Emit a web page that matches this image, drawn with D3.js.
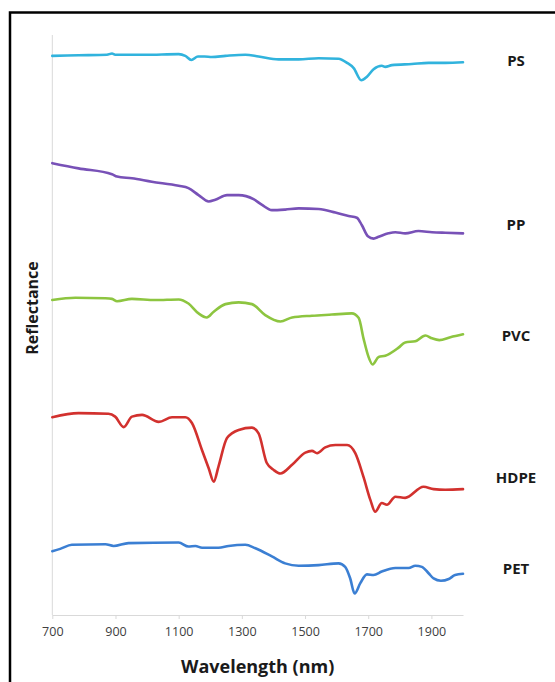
<!DOCTYPE html>
<html>
<head>
<meta charset="utf-8">
<script src="https://cdn.jsdelivr.net/npm/d3@7"></script>
<style>
  html, body { margin: 0; padding: 0; background: #fff; }
  svg { display: block; }
  text { font-family: "Open Sans", "DejaVu Sans", sans-serif; }
</style>
</head>
<body>
<svg id="chart" width="555" height="682"></svg>
<script>
// NIR reflectance spectra of five polymers, stacked with vertical offsets (a.u.)
const tickValues = [700, 900, 1100, 1300, 1500, 1700, 1900];

const psWavelength = [700, 783, 873, 889, 899, 994, 1100, 1121, 1140, 1161, 1182, 1205, 1248, 1311, 1353, 1416, 1480, 1543, 1606, 1633, 1654, 1678, 1696, 1717, 1743, 1754, 1775, 1838, 1891, 1944, 2000];
const psValue = [0.964, 0.965, 0.966, 0.968, 0.966, 0.966, 0.967, 0.964, 0.957, 0.963, 0.963, 0.962, 0.964, 0.966, 0.963, 0.958, 0.958, 0.960, 0.959, 0.952, 0.943, 0.922, 0.928, 0.941, 0.947, 0.945, 0.948, 0.950, 0.952, 0.952, 0.953];

const ppWavelength = [700, 783, 889, 905, 952, 1015, 1100, 1131, 1163, 1195, 1216, 1253, 1290, 1337, 1364, 1395, 1437, 1480, 1543, 1596, 1638, 1664, 1680, 1699, 1717, 1733, 1764, 1786, 1817, 1859, 1902, 1944, 2000];
const ppValue = [0.779, 0.770, 0.760, 0.756, 0.753, 0.747, 0.740, 0.736, 0.724, 0.713, 0.716, 0.724, 0.724, 0.717, 0.707, 0.698, 0.699, 0.701, 0.700, 0.694, 0.688, 0.685, 0.672, 0.653, 0.649, 0.652, 0.658, 0.660, 0.658, 0.662, 0.660, 0.659, 0.658];

const pvcWavelength = [700, 773, 868, 889, 905, 952, 1026, 1100, 1131, 1163, 1189, 1211, 1248, 1290, 1332, 1374, 1422, 1459, 1522, 1585, 1648, 1670, 1685, 1701, 1714, 1733, 1754, 1796, 1817, 1849, 1881, 1902, 1925, 1960, 2000];
const pvcValue = [0.543, 0.547, 0.546, 0.545, 0.541, 0.545, 0.543, 0.544, 0.537, 0.520, 0.513, 0.523, 0.536, 0.539, 0.536, 0.517, 0.506, 0.513, 0.516, 0.518, 0.520, 0.512, 0.477, 0.445, 0.432, 0.445, 0.447, 0.461, 0.470, 0.472, 0.482, 0.477, 0.474, 0.479, 0.484];

const hdpeWavelength = [700, 783, 878, 899, 926, 952, 984, 1037, 1079, 1121, 1142, 1174, 1195, 1211, 1226, 1253, 1290, 1332, 1353, 1379, 1401, 1422, 1459, 1501, 1522, 1538, 1564, 1596, 1633, 1659, 1685, 1707, 1722, 1743, 1759, 1786, 1817, 1875, 1907, 1944, 2000];
const hdpeValue = [0.341, 0.348, 0.347, 0.342, 0.324, 0.342, 0.345, 0.333, 0.341, 0.341, 0.331, 0.284, 0.253, 0.230, 0.256, 0.305, 0.319, 0.323, 0.313, 0.262, 0.250, 0.244, 0.259, 0.280, 0.283, 0.279, 0.289, 0.293, 0.293, 0.279, 0.238, 0.198, 0.178, 0.193, 0.190, 0.204, 0.202, 0.221, 0.217, 0.216, 0.217];

const petWavelength = [700, 725, 762, 868, 894, 941, 1100, 1131, 1153, 1174, 1226, 1258, 1311, 1343, 1395, 1437, 1480, 1543, 1606, 1627, 1643, 1657, 1675, 1696, 1717, 1743, 1786, 1828, 1849, 1870, 1891, 1907, 1930, 1955, 1975, 2000];
const petValue = [0.110, 0.114, 0.121, 0.122, 0.119, 0.124, 0.125, 0.118, 0.119, 0.116, 0.116, 0.119, 0.121, 0.115, 0.101, 0.089, 0.085, 0.086, 0.089, 0.083, 0.063, 0.037, 0.055, 0.070, 0.069, 0.075, 0.081, 0.081, 0.085, 0.083, 0.072, 0.063, 0.059, 0.062, 0.069, 0.071];

const seriesNames = ["PS", "PP", "PVC", "HDPE", "PET"];
const seriesColors = ["#31b3dd", "#7851b7", "#8dc540", "#d2312e", "#3b7fd3"];
const seriesWavelengths = [psWavelength, ppWavelength, pvcWavelength, hdpeWavelength, petWavelength];
const seriesValues = [psValue, ppValue, pvcValue, hdpeValue, petValue];

// vertical nudge (px) of each name label relative to its curve's last point
const labelNudge = [-1.5, -9, 1.5, -11, -5.5];

const svg = d3.select("#chart");
const W = 555, H = 682;
const plot = { left: 52.3, right: 463, top: 35, bottom: 615 };

svg.append("rect").attr("width", W).attr("height", H).attr("fill", "#fff");

// outer frame
svg.append("rect")
  .attr("x", 10).attr("y", 12.5)
  .attr("width", W + 20).attr("height", H + 20)
  .attr("fill", "none").attr("stroke", "#000").attr("stroke-width", 2.5);

const x = d3.scaleLinear().domain([700, 2000]).range([plot.left, plot.right]);
const y = d3.scaleLinear().domain([0, 1]).range([plot.bottom, plot.top]);

// value axis (no ticks)
svg.append("line")
  .attr("x1", plot.left).attr("x2", plot.left)
  .attr("y1", plot.top).attr("y2", plot.bottom)
  .attr("stroke", "#d9d9d9").attr("stroke-width", 1);

// wavelength axis
const xAxis = svg.append("g")
  .attr("transform", `translate(0,${plot.bottom})`)
  .call(d3.axisBottom(x).tickValues(tickValues).tickSize(4).tickSizeOuter(0).tickPadding(8).tickFormat(d3.format("d")));
xAxis.select(".domain").attr("stroke", "#d9d9d9");
xAxis.selectAll(".tick line").attr("stroke", "#d9d9d9");
xAxis.selectAll(".tick text")
  .attr("fill", "#404040")
  .style("font-size", "12.5px")
  .style("font-family", "'Open Sans', sans-serif");

// spectra
const line = d3.line()
  .x(d => x(d[0]))
  .y(d => y(d[1]))
  .curve(d3.curveMonotoneX);

seriesNames.forEach((name, i) => {
  const pts = seriesWavelengths[i].map((w, j) => [w, seriesValues[i][j]]);
  svg.append("path")
    .datum(pts)
    .attr("d", line)
    .attr("fill", "none")
    .attr("stroke", seriesColors[i])
    .attr("stroke-width", 2.6)
    .attr("stroke-linejoin", "round")
    .attr("stroke-linecap", "round");

  const last = seriesValues[i][seriesValues[i].length - 1];
  svg.append("text")
    .attr("x", 516)
    .attr("y", y(last) + labelNudge[i])
    .attr("dy", "0.35em")
    .attr("text-anchor", "middle")
    .attr("font-weight", "bold")
    .attr("font-size", 15)
    .attr("fill", "#1a1a1a")
    .text(name);
});

// axis titles
svg.append("text")
  .attr("x", (plot.left + plot.right) / 2)
  .attr("y", 673)
  .attr("text-anchor", "middle")
  .attr("font-weight", "bold")
  .attr("font-size", 18)
  .attr("fill", "#1a1a1a")
  .text("Wavelength (nm)");

svg.append("text")
  .attr("transform", "translate(38,308) rotate(-90)")
  .attr("text-anchor", "middle")
  .attr("font-weight", "bold")
  .attr("font-size", 16)
  .attr("fill", "#1a1a1a")
  .text("Reflectance");
</script>
</body>
</html>
